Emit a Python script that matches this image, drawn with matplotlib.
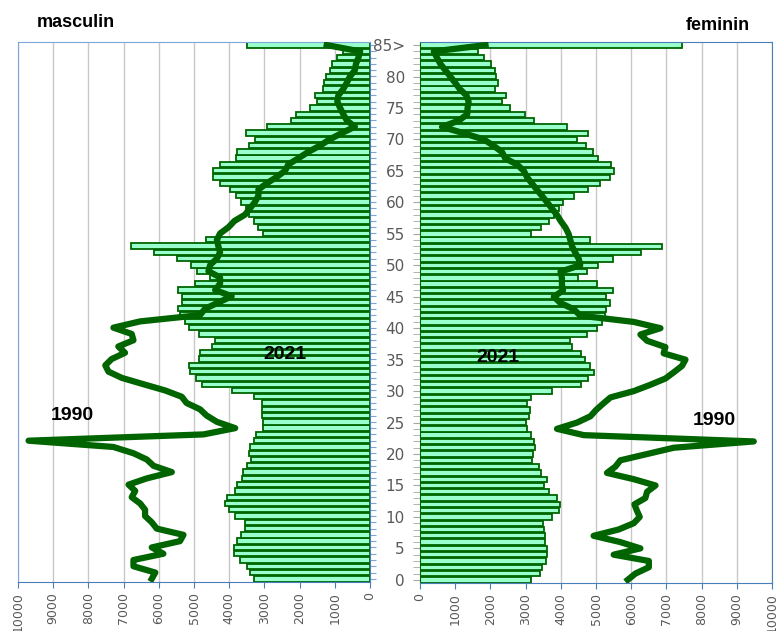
# -*- coding: utf-8 -*-
"""
Piramida populatiei 2021 vs 1990
"""

import numpy as np
import matplotlib.pyplot as plt

# Datos
edades = list(range(0, 86))
etiquetas_edad = [str(e) for e in range(0, 85, 5)] + ["85>"]

masculin_2021 = [
    3290, 3410, 3500, 3690, 3850, 3850, 3790, 3670, 3550, 3550,
    3830, 4020, 4120, 4070, 3830, 3790, 3630, 3600, 3500, 3390,
    3450, 3410, 3310, 3250, 3030, 3030, 3080, 3080, 3060, 3310,
    3910, 4760, 4940, 5110, 5130, 4870, 4830, 4490, 4400, 4870,
    5150, 5270, 5400, 5460, 5350, 5350, 5460, 4970, 4540, 4920,
    5090, 5490, 6150, 6800, 4660, 3030, 3170, 3310, 3450, 3520,
    3670, 3820, 3980, 4260, 4470, 4450, 4260, 3820, 3770, 3450,
    3270, 3520, 2920, 2250, 2100, 1700, 1510, 1560, 1340, 1310,
    1260, 1150, 1070, 950, 760, 3500]

feminin_2021 = [
    3150, 3400, 3460, 3570, 3600, 3610, 3540, 3550, 3510, 3480,
    3740, 3940, 3970, 3890, 3660, 3520, 3610, 3450, 3370, 3190,
    3220, 3260, 3230, 3150, 3030, 3000, 3090, 3110, 3050, 3160,
    3740, 4580, 4760, 4940, 4840, 4680, 4560, 4310, 4250, 4740,
    5030, 5180, 5240, 5270, 5390, 5290, 5480, 5030, 4500, 4730,
    5050, 5480, 6290, 6870, 4820, 3160, 3450, 3655, 3800, 3940,
    4060, 4370, 4760, 5100, 5390, 5500, 5430, 5060, 4900, 4720,
    4460, 4760, 4180, 3250, 2990, 2560, 2340, 2440, 2140, 2220,
    2150, 2120, 2030, 1810, 1650, 7440]

masculin_1990 = [
    6200, 6100, 6720, 6720, 5870, 6200, 5400, 5300, 6060, 6200,
    6390, 6390, 6530, 6770, 6670, 6860, 6340, 5630, 6150, 6340,
    6720, 7290, 9700, 4730, 3830, 4350, 4640, 4830, 5210, 5350,
    5820, 6440, 7050, 7430, 7520, 7340, 6960, 7150, 6720, 6770,
    7290, 6530, 4830, 4690, 4310, 3930, 4400, 4260, 4260, 4590,
    4540, 4350, 4260, 4310, 4350, 4260, 4020, 3850, 3550, 3410,
    3270, 3170, 3170, 2930, 2650, 2410, 2320, 2030, 1750, 1420,
    1140, 800, 430, 660, 760, 850, 930, 900, 760, 660,
    570, 430, 400, 330, 280, 1230]

feminin_1990 = [
    5900, 6120, 6500, 6500, 5500, 6260, 5690, 4930, 5640, 6070,
    6240, 6160, 6090, 6400, 6450, 6690, 6070, 5310, 5550, 5690,
    6450, 7210, 9480, 4650, 3890, 4460, 4840, 5000, 5200, 5410,
    6070, 6540, 6970, 7210, 7440, 7540, 6920, 6970, 6450, 6260,
    6830, 6070, 4550, 4370, 3990, 3800, 4060, 4030, 4030, 3990,
    4550, 4510, 4410, 4320, 4270, 4220, 4130, 4000, 3890, 3750,
    3610, 3470, 3320, 3180, 3040, 2950, 2760, 2420, 2330, 2090,
    1810, 1240, 625, 1100, 1340, 1350, 1380, 1320, 1130, 1000,
    860, 720, 580, 480, 390, 1860]

x_ticks = list(range(0, 10001, 1000))

# Estilo
verde_claro = "#99ffcc"
verde_oscuro = "#006400"
gris = "#595959"
azul_claro = "#7ea6d9"
azul = "#4a7ebb"
fuente_narrow = ["Liberation Sans Narrow", "Liberation Sans", "DejaVu Sans"]

fig = plt.figure(figsize=(7.79, 6.31), dpi=100)
ax_m = fig.add_axes([0.0231, 0.0777, 0.4519, 0.8558])
ax_f = fig.add_axes([0.5392, 0.0761, 0.4519, 0.8574])

for ax in (ax_m, ax_f):
    ax.set_xlim(0, 10000)
    ax.set_ylim(-0.5, 85.5)
    ax.set_xticks(x_ticks)
    ax.set_xticklabels([str(v) for v in x_ticks], rotation=90,
                       color=gris, fontsize=9)
    ax.grid(axis="x", color="#c8c8c8", linewidth=1)
    ax.set_axisbelow(True)
    ax.tick_params(axis="x", length=4, color=azul, pad=3)

# Masculin
ax_m.barh(edades, masculin_2021, height=0.85, color=verde_claro,
          edgecolor=verde_oscuro, linewidth=1.3, zorder=2)
ax_m.plot(masculin_1990, edades, color=verde_oscuro, linewidth=4.5,
          solid_joinstyle="round", zorder=3)
ax_m.set_xlim(10000, 0)
ax_m.yaxis.tick_right()
ax_m.set_yticks(edades)
ax_m.set_yticklabels([])
ax_m.tick_params(axis="y", length=4, color=azul_claro)
for lado in ("left", "top"):
    ax_m.spines[lado].set_color(azul_claro)
for lado in ("right", "bottom"):
    ax_m.spines[lado].set_color(azul)

ax_m.text(2415, 35.8, "2021", ha="center", va="center",
          fontsize=14, fontweight="bold", family=fuente_narrow, zorder=4)
ax_m.text(8466, 26, "1990", ha="center", va="center",
          fontsize=14, fontweight="bold", family=fuente_narrow, zorder=4)

# Feminin
ax_f.barh(edades, feminin_2021, height=0.85, color=verde_claro,
          edgecolor=verde_oscuro, linewidth=1.3, zorder=2)
ax_f.plot(feminin_1990, edades, color=verde_oscuro, linewidth=4.5,
          solid_joinstyle="round", zorder=3)
ax_f.set_yticks(edades, minor=True)
ax_f.set_yticks(list(range(0, 86, 5)))
ax_f.set_yticklabels(etiquetas_edad, color=gris, fontsize=11)
ax_f.tick_params(axis="y", which="both", length=5, color="#a6a6a6", pad=6)
for lado in ("right", "top", "bottom"):
    ax_f.spines[lado].set_color(azul)
ax_f.spines["left"].set_color(verde_oscuro)

ax_f.text(2216, 35.4, "2021", ha="center", va="center",
          fontsize=14, fontweight="bold", family=fuente_narrow, zorder=4)
ax_f.text(8352, 25.3, "1990", ha="center", va="center",
          fontsize=14, fontweight="bold", family=fuente_narrow, zorder=4)

fig.text(0.097, 0.964, "masculin", ha="center", va="center",
         fontsize=13, fontweight="bold", family=fuente_narrow)
fig.text(0.921, 0.960, "feminin", ha="center", va="center",
         fontsize=13, fontweight="bold", family=fuente_narrow)

fig.savefig("out.png", dpi=100)
